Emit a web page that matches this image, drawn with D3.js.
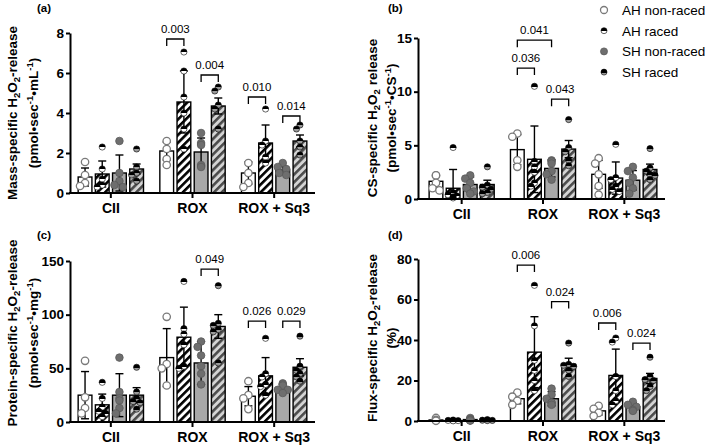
<!DOCTYPE html>
<html><head><meta charset="utf-8">
<script src="https://cdn.jsdelivr.net/npm/d3@7"></script>
<style>body{margin:0;background:#fff} svg{font-family:"Liberation Sans",Arial,sans-serif}</style>
</head><body><svg id="c" width="709" height="447"></svg>
<script>
const categories = ["CII", "ROX", "ROX + Sq3"];
const series = ["AH non-raced", "AH raced", "SH non-raced", "SH raced"];

// (a) mass-specific
const massMean = [[0.8, 0.95, 1.0, 1.2], [2.1, 4.55, 2.05, 4.35], [1.0, 2.5, 1.15, 2.6]];
const massSD = [[0.45, 0.65, 0.9, 0.25], [0.45, 1.55, 0.7, 0.4], [0.55, 0.9, 0.2, 0.3]];
const massPts = [
  [[1.55, 0.9, 0.5, 0.35], [2.3, 1.2, 0.7, 0.4, 0.3], [2.6, 1.0, 0.6, 0.4, 0.3], [2.2, 1.3, 1.0, 0.9, 0.6]],
  [[2.6, 2.2, 1.7, 1.4], [7.05, 6.1, 4.8, 4.0, 3.2, 2.2], [3.0, 2.5, 2.4, 1.4, 1.3], [5.3, 5.1, 4.4, 4.2, 3.2]],
  [[1.5, 1.0, 0.5, 0.3], [4.2, 2.6, 2.4, 1.8, 1.5], [1.5, 1.3, 1.2, 1.0, 0.9], [3.4, 3.2, 2.6, 2.3, 1.9]]
];
const massTicks = [0, 2, 4, 6, 8];
const massBrackets = [[1, 0, 1, 7.7, "0.003"], [1, 2, 3, 5.9, "0.004"], [2, 0, 1, 4.8, "0.010"], [2, 2, 3, 3.85, "0.014"]];

// (b) CS-specific
const csMean = [[1.65, 1.0, 1.35, 1.35], [4.6, 3.7, 2.85, 4.65], [2.3, 1.95, 1.75, 2.75]];
const csSD = [[0.6, 1.75, 0.7, 0.4], [1.4, 3.1, 0.8, 0.8], [1.3, 1.5, 0.9, 0.5]];
const csPts = [
  [[2.2, 2.2, 1.5, 1.0, 0.8], [4.8, 0.6, 0.4, 0.3, 0.2, 0.1], [2.2, 1.9, 1.5, 1.0, 0.7, 0.5], [3.0, 1.3, 1.1, 0.9, 0.6, 0.5]],
  [[6.1, 5.8, 3.6, 3.0], [10.5, 3.5, 3.0, 2.5, 1.5, 1.2], [3.6, 3.5, 3.3, 2.6, 2.3, 1.8], [7.4, 4.8, 4.4, 3.6, 3.1]],
  [[3.8, 3.3, 2.3, 1.2, 0.4], [5.1, 2.0, 1.8, 1.2, 0.9, 0.7], [3.0, 2.6, 2.0, 1.5, 1.0, 0.5], [4.7, 2.9, 2.6, 2.3, 2.2, 1.8]]
];
const csTicks = [0, 5, 10, 15];
const csBrackets = [[1, 0, 2, 14.8, "0.041"], [1, 0, 1, 12.2, "0.036"], [1, 2, 3, 9.3, "0.043"]];

// (c) protein-specific
const protMean = [[25, 16, 25, 25], [60, 79, 55, 89], [24, 43, 32, 51]];
const protSD = [[22, 10, 20, 7], [27, 28, 20, 11], [9, 17, 3, 8]];
const protPts = [
  [[57, 23, 13, 8], [37, 22, 14, 10, 8, 5], [60, 28, 22, 20, 13, 8], [51, 28, 22, 19, 18, 12]],
  [[98, 54, 50, 34], [131, 87, 82, 72, 52, 50], [75, 70, 62, 52, 45, 35], [127, 92, 90, 86, 84, 55]],
  [[38, 25, 22, 12], [78, 45, 42, 35, 33, 25], [36, 35, 34, 30, 30, 27], [80, 52, 48, 45, 42, 38]]
];
const protTicks = [0, 50, 100, 150];
const protBrackets = [[1, 2, 3, 142.5, "0.049"], [2, 0, 1, 94, "0.026"], [2, 2, 3, 94, "0.029"]];

// (d) flux-specific
const fluxMean = [[0.5, 0.3, 0.7, 0.4], [11, 34, 11, 28], [5, 22.5, 7, 21]];
const fluxSD = [[0.5, 0.2, 0.5, 0.3], [2.5, 17.5, 3.5, 3], [2, 13, 2, 2.5]];
const fluxPts = [
  [[1.5, 0.6, 0.3, 0.1], [0.5, 0.3, 0.2, 0.2, 0.1], [1.5, 1.0, 0.6, 0.4, 0.3, 0.2], [0.7, 0.4, 0.3, 0.2]],
  [[14, 12, 10, 8], [67, 47, 30, 25, 20, 15], [16, 13, 11, 9, 9, 8], [38.5, 28, 27.5, 27, 25, 22]],
  [[7.5, 6, 4, 2.5], [41, 39, 22, 15, 10, 8], [9.5, 8, 7, 5.5, 5], [31.5, 22, 20.5, 20, 17, 15]]
];
const fluxTicks = [0, 20, 40, 60, 80];
const fluxBrackets = [[1, 0, 1, 77, "0.006"], [1, 2, 3, 59, "0.024"], [2, 0, 1, 48.4, "0.006"], [2, 2, 3, 38.5, "0.024"]];

const svg = d3.select("#c");
const defs = svg.append("defs");
function stripes(id, bg, fg) {
  const p = defs.append("pattern").attr("id", id).attr("patternUnits", "userSpaceOnUse")
    .attr("width", 5.5).attr("height", 5.5).attr("patternTransform", "rotate(45)");
  p.append("rect").attr("width", 5.5).attr("height", 5.5).attr("fill", bg);
  p.append("rect").attr("width", 2.6).attr("height", 5.5).attr("fill", fg);
}
stripes("hAH", "#ffffff", "#000000");
stripes("hSH", "#d4d4d4", "#4a4a4a");
function grad(id, bottom) {
  const g = defs.append("linearGradient").attr("id", id).attr("x1", 0).attr("y1", 0).attr("x2", 0).attr("y2", 1);
  g.append("stop").attr("offset", "0.58").attr("stop-color", "#000");
  g.append("stop").attr("offset", "0.58").attr("stop-color", bottom);
}
grad("gAH", "#ffffff");
grad("gSH", "#9a9a9a");

const barFill = ["#ffffff", "url(#hAH)", "#a8a8a8", "url(#hSH)"];
const ptStyle = [
  {r: 3.7, fill: "#ffffff", stroke: "#7a7a7a", sw: 1.3},
  {r: 3.1, fill: "url(#gAH)", stroke: "#000", sw: 0.6},
  {r: 3.8, fill: "#6e6e6e", stroke: "#5a5a5a", sw: 0.8},
  {r: 3.1, fill: "url(#gSH)", stroke: "#000", sw: 0.6}
];

function drawPanel(cfg) {
  const g = svg.append("g");
  const y = d3.scaleLinear().domain([0, cfg.max]).range([cfg.y0, cfg.yTop]);
  const x = d3.scaleBand().domain(categories).range([cfg.bx0, cfg.bx1]).paddingInner(0.2).paddingOuter(0.1);
  const xs = d3.scaleBand().domain(d3.range(4)).range([0, x.bandwidth()]).paddingInner(0.2);

  categories.forEach((c, ci) => {
    for (let s = 0; s < 4; s++) {
      const bx = x(c) + xs(s);
      const m = cfg.mean[ci][s];
      g.append("rect").attr("x", bx).attr("y", y(m)).attr("width", xs.bandwidth())
        .attr("height", y(0) - y(m)).attr("fill", barFill[s]).attr("stroke", "#000").attr("stroke-width", 1.4);
    }
  });
  categories.forEach((c, ci) => {
    for (let s = 0; s < 4; s++) {
      const cx = x(c) + xs(s) + xs.bandwidth() / 2;
      const m = cfg.mean[ci][s], sd = cfg.sd[ci][s];
      const lo = Math.max(0, m - sd), hi = m + sd;
      g.append("line").attr("x1", cx).attr("x2", cx).attr("y1", y(lo)).attr("y2", y(hi)).attr("stroke", "#000").attr("stroke-width", 1.4);
      [lo, hi].forEach(v => g.append("line").attr("x1", cx - 4).attr("x2", cx + 4).attr("y1", y(v)).attr("y2", y(v)).attr("stroke", "#000").attr("stroke-width", 1.4));
    }
  });
  categories.forEach((c, ci) => {
    for (let s = 0; s < 4; s++) {
      const cx = x(c) + xs(s) + xs.bandwidth() / 2;
      const st = ptStyle[s];
      const placed = [];
      const vals = cfg.pts[ci][s].slice().sort((a, b) => b - a);
      const offs = [0, -3.5, 3.5, -5, 5];
      vals.forEach(v => {
        const py = y(v);
        let px = cx;
        for (const o of offs) {
          const tx = cx + o;
          if (placed.every(p => Math.hypot(p[0] - tx, p[1] - py) >= st.r * 1.5)) { px = tx; break; }
        }
        placed.push([px, py]);
        g.append("circle").attr("cx", px).attr("cy", py).attr("r", st.r).attr("fill", st.fill)
          .attr("stroke", st.stroke).attr("stroke-width", st.sw);
      });
    }
  });
  const ya = d3.axisLeft(y).tickValues(cfg.ticks).tickSize(4).tickSizeOuter(0).tickPadding(2);
  const yg = g.append("g").attr("transform", `translate(${cfg.ax},0)`).call(ya);
  yg.select(".domain").attr("stroke-width", 2);
  yg.selectAll(".tick line").attr("stroke-width", 2);
  yg.selectAll("text").attr("font-size", 13.5).attr("font-weight", "bold").attr("fill", "#000")
    .attr("font-family", "Liberation Sans, Arial, sans-serif");
  g.append("line").attr("x1", cfg.ax - 1).attr("x2", cfg.bx1).attr("y1", cfg.y0).attr("y2", cfg.y0)
    .attr("stroke", "#000").attr("stroke-width", 2);
  categories.forEach(c => {
    const cx = x(c) + x.bandwidth() / 2;
    g.append("line").attr("x1", cx).attr("x2", cx).attr("y1", cfg.y0).attr("y2", cfg.y0 + 5).attr("stroke", "#000").attr("stroke-width", 2);
    g.append("text").attr("x", cx).attr("y", cfg.y0 + 20).attr("text-anchor", "middle")
      .attr("font-size", 14).attr("font-weight", "bold").text(c);
  });
  cfg.brackets.forEach(([ci, a, b, v, lab]) => {
    const xa = x(categories[ci]) + xs(a) + xs.bandwidth() / 2;
    const xb = x(categories[ci]) + xs(b) + xs.bandwidth() / 2;
    const by = y(v);
    g.append("path").attr("d", `M${xa},${by + 7}V${by}H${xb}V${by + 7}`).attr("fill", "none")
      .attr("stroke", "#000").attr("stroke-width", 1.3);
    g.append("text").attr("x", (xa + xb) / 2).attr("y", by - 6).attr("text-anchor", "middle")
      .attr("font-size", 11.5).text(lab);
  });
  const t = g.append("text").attr("transform", `translate(${cfg.tx1},${cfg.ty}) rotate(-90)`)
    .attr("text-anchor", "middle").attr("font-size", 13.5).attr("font-weight", "bold");
  cfg.title1.forEach(([txt, mode]) => {
    const ts = t.append("tspan").text(txt);
    if (mode === "sub") ts.attr("font-size", 9.5).attr("dy", 3);
    else if (mode === "back") ts.attr("dy", -3);
  });
  const t2 = g.append("text").attr("transform", `translate(${cfg.tx2},${cfg.ty}) rotate(-90)`)
    .attr("text-anchor", "middle").attr("font-size", 13.5).attr("font-weight", "bold");
  cfg.title2.forEach(([txt, mode]) => {
    const ts = t2.append("tspan").text(txt);
    if (mode === "sup") ts.attr("font-size", 9.5).attr("dy", -5);
    else if (mode === "back") ts.attr("dy", 5);
  });
  svg.append("text").attr("x", cfg.lx).attr("y", cfg.ly).attr("font-size", 11.5).attr("font-weight", "bold").text(cfg.label);
}

const h2o2 = (pre, post) => [[pre + " H", ""], ["2", "sub"], ["O", "back"], ["2", "sub"], [post, "back"]];
const unit = (a) => [["(pmol•sec", ""], ["-1", "sup"], ["•" + a, "back"], ["-1", "sup"], [")", "back"]];

drawPanel({label: "(a)", lx: 37, ly: 12, max: 8, ticks: massTicks, y0: 193, yTop: 33, ax: 70, bx0: 70, bx1: 315,
  mean: massMean, sd: massSD, pts: massPts, brackets: massBrackets,
  title1: h2o2("Mass-specific", "-release"), title2: unit("mL"), tx1: 17, tx2: 38, ty: 113});
drawPanel({label: "(b)", lx: 388, ly: 12, max: 15, ticks: csTicks, y0: 199, yTop: 38, ax: 418, bx0: 421, bx1: 665,
  mean: csMean, sd: csSD, pts: csPts, brackets: csBrackets,
  title1: h2o2("CS-specific", " release"), title2: unit("CS"), tx1: 377, tx2: 396, ty: 118});
drawPanel({label: "(c)", lx: 37, ly: 239, max: 150, ticks: protTicks, y0: 422, yTop: 261, ax: 70, bx0: 70, bx1: 315,
  mean: protMean, sd: protSD, pts: protPts, brackets: protBrackets,
  title1: h2o2("Protein-specific", "-release"), title2: unit("mg"), tx1: 17, tx2: 38, ty: 333});
drawPanel({label: "(d)", lx: 388, ly: 239, max: 80, ticks: fluxTicks, y0: 421, yTop: 259, ax: 418, bx0: 421, bx1: 665,
  mean: fluxMean, sd: fluxSD, pts: fluxPts, brackets: fluxBrackets,
  title1: h2o2("Flux-specific", "-release"), title2: [["(%)", ""]], tx1: 377, tx2: 396, ty: 338});

const leg = svg.append("g");
series.forEach((s, i) => {
  const ly = 10 + i * 20.7;
  const st = ptStyle[i];
  leg.append("circle").attr("cx", 604).attr("cy", ly).attr("r", i === 0 || i === 2 ? 3.5 : 3)
    .attr("fill", st.fill).attr("stroke", st.stroke).attr("stroke-width", st.sw);
  leg.append("text").attr("x", 622).attr("y", ly + 5).attr("font-size", 13.5).text(s);
});
</script></body></html>
